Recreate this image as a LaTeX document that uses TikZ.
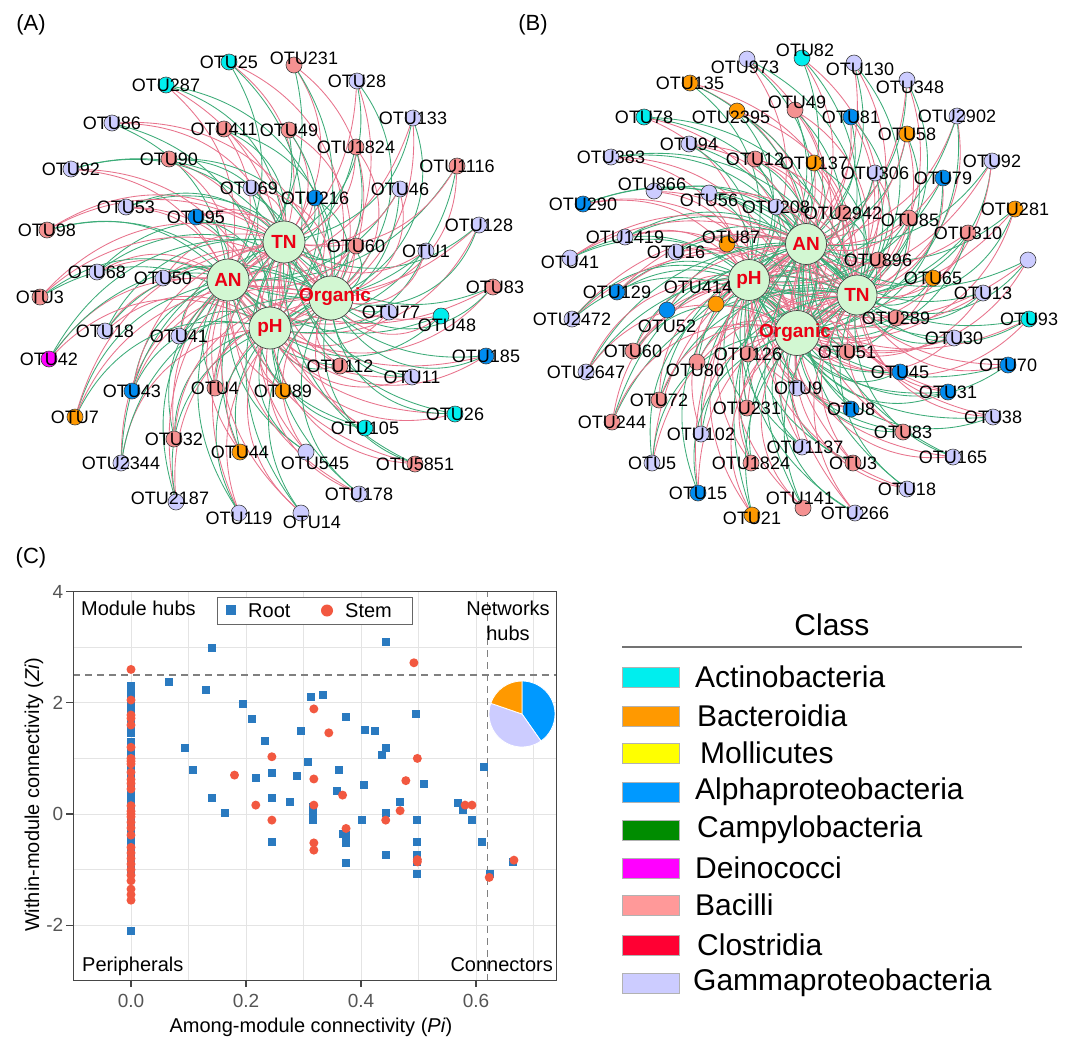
\documentclass[tikz,border=0pt]{standalone}
\usepackage{fontspec}
\setmainfont{Liberation Sans}
\usetikzlibrary{backgrounds,calc}
\definecolor{cAct}{RGB}{0,238,238}
\definecolor{cBac}{RGB}{255,153,0}
\definecolor{cMol}{RGB}{255,255,0}
\definecolor{cAlp}{RGB}{0,140,240}
\definecolor{cAlpL}{RGB}{0,153,255}
\definecolor{cCam}{RGB}{0,140,0}
\definecolor{cDei}{RGB}{255,0,255}
\definecolor{cBcl}{RGB}{245,145,145}
\definecolor{cBclL}{RGB}{255,153,153}
\definecolor{cClo}{RGB}{255,0,51}
\definecolor{cGam}{RGB}{204,204,255}
\definecolor{eGreen}{RGB}{60,172,120}
\definecolor{ePink}{RGB}{232,115,140}
\definecolor{hubFill}{RGB}{210,247,210}
\definecolor{hubRed}{RGB}{235,0,20}
\definecolor{pBlue}{RGB}{42,122,192}
\definecolor{pRed}{RGB}{242,88,64}
\definecolor{gridC}{RGB}{228,228,228}
\definecolor{axC}{RGB}{70,70,70}
\definecolor{tickC}{RGB}{85,85,85}
\newcommand\otu[5][0,0]{\node[otu,fill=#4] (#2) at (#3) {}; \node[lbl] (#2l) at ($(#3)+(#1)$) {#5};}
\newcommand\hubnode[5]{\node[hub,minimum size=#3] (#1) at (#2) {}; \node[hubtxt] (#1l) at (#4) {#5};}
\begin{document}
\begin{tikzpicture}[x=1pt,y=-1pt,
 otu/.style={circle,draw=black!75,line width=0.6pt,minimum size=16pt,inner sep=0pt},
 lbl/.style={inner sep=0pt,font=\fontsize{18}{18}\selectfont},
 hub/.style={circle,draw=black!75,line width=0.7pt,fill=hubFill,inner sep=0pt},
 hubtxt/.style={inner sep=0pt,text=hubRed,font=\fontsize{19}{19}\selectfont\bfseries},
 panel/.style={inner sep=0pt,font=\fontsize{22}{22}\selectfont},
 swatch/.style={draw=black!30,line width=0.7pt,minimum width=57pt,minimum height=20pt,inner sep=0pt},
 legtxt/.style={inner sep=0pt,font=\fontsize{30}{30}\selectfont},
 plottxt/.style={inner sep=0pt,font=\fontsize{20}{20}\selectfont},
 ticktxt/.style={inner sep=0pt,text=tickC,font=\fontsize{19}{19}\selectfont},
 edge/.style={line width=0.85pt}]
\path[use as bounding box] (0,0) rectangle (1080,1045);
\begin{pgfonlayer}{background}
\fill[white] (0,0) rectangle (1080,1045);
\end{pgfonlayer}

\node[panel] (pA) at (31,25) {(A)};
\node[panel] (pB) at (533,25) {(B)};
\node[panel] (pC) at (31,558) {(C)};

% ---------------- Panel A ----------------
\hubnode{aTN}{284,242}{42pt}{284,242}{TN}
\hubnode{aAN}{228,280}{42pt}{228,280}{AN}
\hubnode{apH}{270,328}{42pt}{270,328}{pH}
\hubnode{aOrg}{331,298}{44pt}{335,297}{Organic}

\otu{a25}{229,62}{cAct}{OTU25}
\otu{a287}{166,85}{cAct}{OTU287}
\otu[10,-7]{a231}{294,65}{cBcl}{OTU231}
\otu{a28}{357,81}{cGam}{OTU28}
\otu{a86}{112,123}{cGam}{OTU86}
\otu{a411}{224,129}{cBcl}{OTU411}
\otu{a49}{289,130}{cBcl}{OTU49}
\otu{a133}{413,118}{cGam}{OTU133}
\otu{a1824}{356,147}{cBcl}{OTU1824}
\otu{a90}{169,159}{cBcl}{OTU90}
\otu{a1116}{457,166}{cBcl}{OTU1116}
\otu{a92}{71,169}{cGam}{OTU92}
\otu[-2,0]{a69}{251,188}{cGam}{OTU69}
\otu{a216}{315,198}{cAlp}{OTU216}
\otu{a46}{400,189}{cGam}{OTU46}
\otu{a53}{126,207}{cGam}{OTU53}
\otu{a95}{196,217}{cAlp}{OTU95}
\otu{a128}{479,225}{cGam}{OTU128}
\otu{a98}{47,230}{cBcl}{OTU98}
\otu{a60}{356,246}{cBcl}{OTU60}
\otu{a1}{426,251}{cGam}{OTU1}
\otu{a68}{97,272}{cGam}{OTU68}
\otu{a50}{163,278}{cGam}{OTU50}
\otu[2,0]{a83}{493,287}{cBcl}{OTU83}
\otu{a3}{40,297}{cBcl}{OTU3}
\otu[2,0]{a77}{389,312}{cGam}{OTU77}
\otu[6,9]{a48}{441,316}{cAct}{OTU48}
\otu{a18}{105,331}{cGam}{OTU18}
\otu{a41}{179,336}{cGam}{OTU41}
\otu{a42}{49,359}{cDei}{OTU42}
\otu{a112}{340,366}{cBcl}{OTU112}
\otu{a185}{486,356}{cAlp}{OTU185}
\otu{a43}{132,391}{cAlp}{OTU43}
\otu{a11}{412,377}{cGam}{OTU11}
\otu{a4}{215,388}{cBcl}{OTU4}
\otu{a89}{283,391}{cBac}{OTU89}
\otu{a7}{75,417}{cBac}{OTU7}
\otu{a26}{455,414}{cAct}{OTU26}
\otu{a32}{174,439}{cBcl}{OTU32}
\otu{a44}{240,452}{cBac}{OTU44}
\otu{a105}{365,428}{cAct}{OTU105}
\otu{a2344}{121,463}{cGam}{OTU2344}
\otu[9,11]{a545}{306,452}{cGam}{OTU545}
\otu{a5851}{415,464}{cBcl}{OTU5851}
\otu[-6,-4]{a2187}{176,502}{cGam}{OTU2187}
\otu{a178}{359,494}{cGam}{OTU178}
\otu[0,5]{a119}{239,513}{cGam}{OTU119}
\otu[11,9]{a14}{301,513}{cGam}{OTU14}

% ---------------- Panel B ----------------
\hubnode{bAN}{806,244}{41pt}{806,244}{AN}
\hubnode{bpH}{749,280}{41pt}{749,280}{pH}
\hubnode{bTN}{857,295}{40pt}{857,295}{TN}
\hubnode{bOrg}{797,333}{45pt}{795,333}{Organic}

\otu[-2,8]{b973}{747,59}{cGam}{OTU973}
\otu[3,-8]{b82}{802,58}{cAct}{OTU82}
\otu[6,6]{b130}{854,63}{cGam}{OTU130}
\otu{b135}{690,83}{cBac}{OTU135}
\otu[3,7]{b348}{907,80}{cGam}{OTU348}
\otu[2,-8]{b49}{795,110}{cBcl}{OTU49}
\otu{b78}{644,117}{cAct}{OTU78}
\otu[-6,6]{b2395}{737,111}{cBac}{OTU2395}
\otu{b81}{851,117}{cAlp}{OTU81}
\otu{b2902}{957,116}{cGam}{OTU2902}
\otu{b58}{907,134}{cBac}{OTU58}
\otu{b94}{689,144}{cGam}{OTU94}
\otu{b383}{611,157}{cGam}{OTU383}
\otu{b12}{755,159}{cBcl}{OTU12}
\otu{b137}{814,163}{cBac}{OTU137}
\otu{b306}{875,173}{cGam}{OTU306}
\otu{b92}{992,161}{cGam}{OTU92}
\otu{b79}{943,178}{cAlp}{OTU79}
\otu[-2,-7]{b866}{654,191}{cGam}{OTU866}
\otu[0,7]{b56}{709,193}{cGam}{OTU56}
\otu{b290}{583,204}{cAlp}{OTU290}
\otu{b208}{776,207}{cGam}{OTU208}
\otu{b2942}{843,213}{cBcl}{OTU2942}
\otu[1,2]{b85}{909,218}{cBcl}{OTU85}
\otu{b281}{1015,209}{cBac}{OTU281}
\otu{b310}{968,233}{cBcl}{OTU310}
\otu{b1419}{625,237}{cGam}{OTU1419}
\otu[4,-7]{b87}{727,244}{cBac}{OTU87}
\otu{b16}{676,252}{cGam}{OTU16}
\otu{b896}{878,260}{cBcl}{OTU896}
\node[otu,fill=cGam] (b0) at (1028,260) {};
\otu[0,4]{b41}{570,258}{cGam}{OTU41}
\otu{b65}{933,278}{cBac}{OTU65}
\otu{b129}{617,292}{cAlp}{OTU129}
\otu{b13}{983,293}{cGam}{OTU13}
\otu[-18,-17]{b414}{716,304}{cBac}{OTU414}
\otu[0,16]{b52}{667,310}{cAlp}{OTU52}
\otu{b289}{896,318}{cBcl}{OTU289}
\otu{b93}{1029,319}{cAct}{OTU93}
\otu{b2472}{572,319}{cGam}{OTU2472}
\otu{b30}{954,338}{cGam}{OTU30}
\otu{b60}{633,351}{cBcl}{OTU60}
\otu{b51}{847,352}{cBcl}{OTU51}
\otu{b126}{748,354}{cBcl}{OTU126}
\otu[-2,8]{b80}{697,362}{cBcl}{OTU80}
\otu{b70}{1008,365}{cAlp}{OTU70}
\otu{b2647}{586,372}{cGam}{OTU2647}
\otu{b45}{900,372}{cAlp}{OTU45}
\otu[1,0]{b9}{797,388}{cGam}{OTU9}
\otu{b31}{948,392}{cAlp}{OTU31}
\otu{b72}{659,400}{cBcl}{OTU72}
\otu{b231}{747,408}{cBcl}{OTU231}
\otu{b8}{851,409}{cAlp}{OTU8}
\otu{b38}{993,417}{cGam}{OTU38}
\otu{b244}{612,422}{cBcl}{OTU244}
\otu{b83}{903,432}{cBcl}{OTU83}
\otu{b102}{701,434}{cGam}{OTU102}
\otu[3,0]{b1137}{802,447}{cGam}{OTU1137}
\otu{b165}{953,457}{cGam}{OTU165}
\otu{b5}{652,463}{cGam}{OTU5}
\otu{b1824}{751,463}{cBcl}{OTU1824}
\otu{b3}{853,463}{cBcl}{OTU3}
\otu{b18}{907,489}{cGam}{OTU18}
\otu{b15}{698,493}{cAlp}{OTU15}
\otu[-3,-10]{b141}{803,508}{cBcl}{OTU141}
\otu{b266}{855,513}{cGam}{OTU266}
\otu[0,3]{b21}{752,515}{cBac}{OTU21}

% ---------------- edges ----------------
\begin{pgfonlayer}{background}
\foreach \n [count=\i] in {a25,a287,a231,a28,a86,a411,a49,a133,a1824,a90,a1116,a92,a69,a216,a46,a53,a95,a128,a98,a60,a1,a68,a50,a83,a3,a77,a48,a18,a41,a42,a112,a185,a43,a11,a4,a89,a7,a26,a32,a44,a105,a2344,a545,a5851,a2187,a178,a119,a14}{
  \foreach \h [count=\j] in {aAN,aTN,apH,aOrg}{
    \pgfmathtruncatemacro\c{mod(\i+\j,2)}
    \ifnum\c=0 \def\ec{eGreen}\else\def\ec{ePink}\fi
    \pgfmathtruncatemacro\bd{24+4*\j}
    \draw[edge,\ec] (\n) to[bend left=\bd] (\h);
  }
}
\foreach \n [count=\i] in {b973,b82,b130,b135,b348,b49,b78,b2395,b81,b2902,b58,b94,b383,b12,b137,b306,b92,b79,b866,b56,b290,b208,b2942,b85,b281,b310,b1419,b87,b16,b896,b0,b41,b65,b129,b13,b414,b52,b289,b93,b2472,b30,b60,b51,b126,b80,b70,b2647,b45,b9,b31,b72,b231,b8,b38,b244,b83,b102,b1137,b165,b5,b1824,b3,b18,b15,b141,b266,b21}{
  \foreach \h [count=\j] in {bAN,bpH,bTN,bOrg}{
    \pgfmathtruncatemacro\c{mod(\i+\j,2)}
    \ifnum\c=0 \def\ec{eGreen}\else\def\ec{ePink}\fi
    \pgfmathtruncatemacro\bd{24+4*\j}
    \draw[edge,\ec] (\n) to[bend left=\bd] (\h);
  }
}
\end{pgfonlayer}

% ---------------- Panel C ----------------
\begin{scope}[shift={(131pt,-814pt)},x=575pt,y=55.6pt]
  \foreach \gx in {0,0.1,0.2,0.3,0.4,0.5,0.6,0.7} \draw[gridC,line width=0.8pt] (\gx,-3) -- (\gx,4);
  \foreach \gy in {-2,-1,0,1,2,3} \draw[gridC,line width=0.8pt] (-0.1,\gy) -- (0.74,\gy);
  \draw[black!50,line width=1.4pt,dash pattern=on 7pt off 5pt] (-0.1,2.5) -- (0.74,2.5);
  \draw[black!50,line width=1.4pt,dash pattern=on 7pt off 5pt] (0.62,-3) -- (0.62,4);
  \foreach \py in {2.3,2.15,2.05,1.95,1.85,1.7,1.55,1.45,1.3,1.2,1.1,1.0,0.85,0.7,0.55,0.4,0.3,0.2,0.1,-0.1,-0.2,-0.3,-0.45,-0.55,-0.7,-0.85,-1.0,-2.1}
    \fill[pBlue] (0,\py) +(-4pt,-4pt) rectangle +(4pt,4pt);
  \foreach \px/\py in {0.14/2.98,0.066/2.37,0.13/2.23,0.195/1.98,0.21/1.71,0.233/1.32,0.094/1.19,0.108/0.80,0.217/0.64,0.245/0.74,0.14/0.28,0.164/0.01,0.245/0.28,0.245/-0.50,0.443/3.10,0.313/2.11,0.334/2.14,0.374/1.75,0.496/1.79,0.296/1.49,0.407/1.51,0.424/1.49,0.443/1.18,0.437/1.06,0.307/0.94,0.288/0.68,0.362/0.80,0.405/0.53,0.510/0.54,0.614/0.85,0.359/0.42,0.277/0.22,0.468/0.22,0.569/0.19,0.577/0.08,0.593/-0.10,0.317/0.13,0.317/0.01,0.317/-0.10,0.443/0.02,0.401/-0.11,0.498/-0.11,0.368/-0.36,0.374/-0.38,0.374/-0.52,0.498/-0.51,0.443/-0.74,0.498/-0.74,0.498/-0.86,0.374/-0.89,0.498/-1.07,0.610/-0.51,0.624/-1.07,0.665/-0.86}
    \fill[pBlue] (\px,\py) +(-4pt,-4pt) rectangle +(4pt,4pt);
  \foreach \py in {2.6,2.05,1.78,1.72,1.6,1.2,1.0,0.95,0.9,0.75,0.62,0.55,0.45,0.15,0.05,0.0,-0.05,-0.15,-0.25,-0.38,-0.6,-0.7,-0.8,-0.9,-1.0,-1.1,-1.2,-1.35,-1.45,-1.55}
    \fill[pRed] (0,\py) circle[radius=4.5pt];
  \foreach \px/\py in {0.18/0.70,0.245/1.03,0.217/0.16,0.245/-0.11,0.492/2.72,0.318/1.89,0.344/1.46,0.498/1.00,0.318/0.63,0.478/0.60,0.368/0.34,0.318/0.16,0.468/0.06,0.443/-0.11,0.374/-0.26,0.318/-0.52,0.318/-0.65,0.498/-0.82,0.498/-0.86,0.581/0.16,0.593/0.16,0.623/-1.14,0.666/-0.83}
    \fill[pRed] (\px,\py) circle[radius=4.5pt];
  \draw[axC,line width=1.3pt] (-0.1,-3) rectangle (0.74,4);
  \foreach \t in {-2,0,2,4} \draw[axC,line width=1.3pt] (-0.1,\t) -- ++(-7pt,0pt);
  \foreach \t in {0,0.2,0.4,0.6} \draw[axC,line width=1.3pt] (\t,-3) -- ++(0pt,-6pt);
  \node[ticktxt,anchor=east] (yt4) at ([xshift=-10pt]-0.1,4) {4};
  \node[ticktxt,anchor=east] (yt2) at ([xshift=-10pt]-0.1,2) {2};
  \node[ticktxt,anchor=east] (yt0) at ([xshift=-10pt]-0.1,0) {0};
  \node[ticktxt,anchor=east] (ytm2) at ([xshift=-10pt]-0.1,-2) {-2};
  \node[ticktxt,anchor=north] (xt0) at ([yshift=-13pt]0,-3) {0.0};
  \node[ticktxt,anchor=north] (xt2) at ([yshift=-13pt]0.2,-3) {0.2};
  \node[ticktxt,anchor=north] (xt4) at ([yshift=-13pt]0.4,-3) {0.4};
  \node[ticktxt,anchor=north] (xt6) at ([yshift=-13pt]0.6,-3) {0.6};
\end{scope}
% pie
\begin{scope}[shift={(522pt,-714pt)},x=1pt,y=1pt]
  \filldraw[fill=cAlpL,draw=white,line width=0.8pt] (0,0) -- (90:33) arc[start angle=90,end angle=-55,radius=33] -- cycle;
  \filldraw[fill=cGam,draw=white,line width=0.8pt] (0,0) -- (-55:33) arc[start angle=-55,end angle=-199,radius=33] -- cycle;
  \filldraw[fill=cBac,draw=white,line width=0.8pt] (0,0) -- (161:33) arc[start angle=161,end angle=90,radius=33] -- cycle;
\end{scope}
\node[plottxt,anchor=west] (mh) at (81,608) {Module hubs};
\node[plottxt,anchor=west] (pe) at (82,966) {Peripherals};
\node[plottxt] (nh1) at (508,608) {Networks};
\node[plottxt] (nh2) at (508,633) {hubs};
\node[plottxt,anchor=east] (co) at (553,965) {Connectors};
\node[draw=black!60,fill=white,line width=0.8pt,minimum width=195pt,minimum height=27pt,inner sep=0pt] (leg) at (314.5,610.5) {};
\fill[pBlue] (226,605) rectangle (236,615);
\fill[pRed] (327,610.5) circle[radius=6];
\node[plottxt,anchor=west] (lr) at (248,611) {Root};
\node[plottxt,anchor=west] (ls) at (345,611) {Stem};
\node[plottxt,rotate=90] (ylab) at (34,795) {Within-module connectivity (\textit{Zi})};
\node[plottxt] (xlab) at (311,1027) {Among-module connectivity (\textit{Pi})};

% ---------------- Legend ----------------
\node[legtxt] (cls) at (832,625) {Class};
\draw[black!55,line width=1.3pt] (622,647) -- (1022,647);
\node[swatch,fill=cAct] (s1) at (651,677) {};
\node[swatch,fill=cBac] (s2) at (651,716) {};
\node[swatch,fill=cMol] (s3) at (651,753) {};
\node[swatch,fill=cAlpL] (s4) at (651,792) {};
\node[swatch,fill=cCam] (s5) at (651,830) {};
\node[swatch,fill=cDei] (s6) at (651,868) {};
\node[swatch,fill=cBclL] (s7) at (651,905) {};
\node[swatch,fill=cClo] (s8) at (651,945) {};
\node[swatch,fill=cGam] (s9) at (651,983) {};
\node[legtxt,anchor=west] (t1) at (695,677) {Actinobacteria};
\node[legtxt,anchor=west] (t2) at (697,716) {Bacteroidia};
\node[legtxt,anchor=west] (t3) at (700,753) {Mollicutes};
\node[legtxt,anchor=west] (t4) at (695,792) {Alphaproteobacteria};
\node[legtxt,anchor=west] (t5) at (697,830) {Campylobacteria};
\node[legtxt,anchor=west] (t6) at (695,868) {Deinococci};
\node[legtxt,anchor=west] (t7) at (695,905) {Bacilli};
\node[legtxt,anchor=west] (t8) at (697,945) {Clostridia};
\node[legtxt,anchor=west] (t9) at (693,983) {Gammaproteobacteria};
\end{tikzpicture}
\end{document}
